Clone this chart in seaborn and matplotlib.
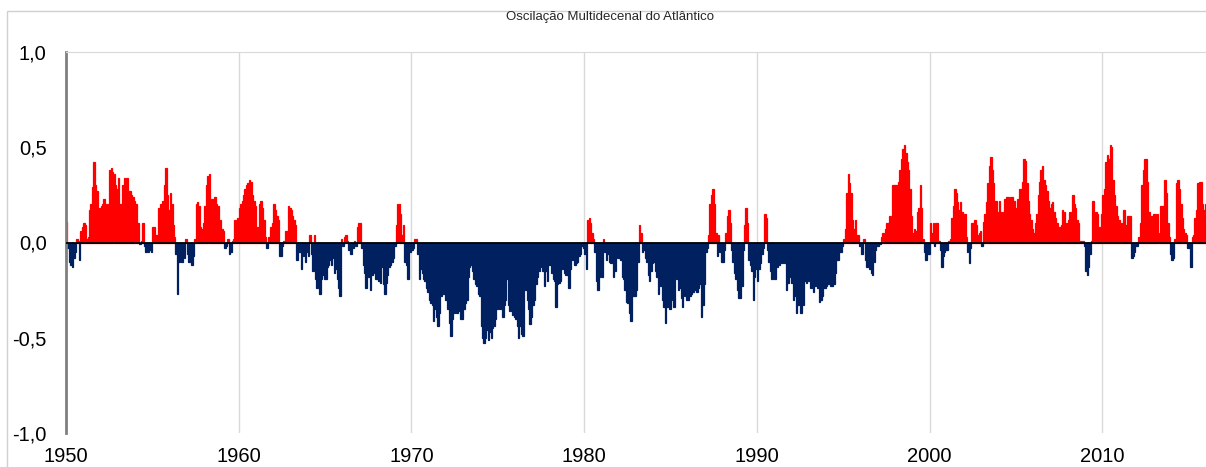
import numpy as np
import pandas as pd
import matplotlib
matplotlib.use("Agg")
import matplotlib.pyplot as plt
from matplotlib.patches import Rectangle
import seaborn as sns

# AMO monthly index, one row per year (Jan..Dec)
amo_1950s = [
    [0.11, -0.03, -0.10, -0.12, -0.13, -0.08, -0.05, 0.02, 0.01, -0.09, 0.06, 0.08],
    [0.10, 0.09, 0.02, 0.03, 0.17, 0.20, 0.29, 0.42, 0.30, 0.27, 0.17, 0.18],
    [0.19, 0.20, 0.23, 0.18, 0.20, 0.19, 0.38, 0.39, 0.37, 0.36, 0.30, 0.28],
    [0.34, 0.20, 0.14, 0.30, 0.34, 0.28, 0.34, 0.26, 0.27, 0.25, 0.24, 0.22],
    [0.20, 0.10, 0.10, -0.01, 0.01, 0.10, -0.02, -0.05, -0.04, -0.05, -0.04, -0.05],
    [0.08, 0.08, 0.04, 0.04, 0.18, 0.20, 0.20, 0.22, 0.30, 0.39, 0.25, 0.17],
    [0.26, 0.20, 0.09, 0.03, -0.06, -0.27, -0.10, -0.09, -0.10, -0.06, -0.08, 0.02],
    [-0.06, -0.10, -0.08, -0.12, -0.07, 0.02, 0.20, 0.21, 0.19, 0.08, 0.07, 0.10],
    [0.19, 0.30, 0.35, 0.36, 0.22, 0.23, 0.22, 0.24, 0.20, 0.19, 0.11, 0.12],
    [0.07, 0.06, -0.03, -0.02, 0.02, -0.06, -0.05, 0.01, 0.02, 0.12, 0.10, 0.13],
]
amo_1960s = [
    [0.18, 0.20, 0.22, 0.25, 0.28, 0.30, 0.31, 0.33, 0.32, 0.25, 0.22, 0.19],
    [0.07, 0.08, 0.20, 0.22, 0.18, 0.12, 0.03, -0.03, 0.03, 0.03, 0.08, 0.10],
    [0.20, 0.17, 0.14, 0.12, -0.07, -0.07, -0.02, 0.01, 0.06, 0.06, 0.19, 0.18],
    [0.17, 0.14, 0.12, 0.09, -0.09, -0.05, -0.05, -0.14, -0.07, -0.07, -0.10, -0.05],
    [-0.07, 0.04, -0.06, -0.15, 0.04, -0.19, -0.24, -0.21, -0.27, -0.19, -0.17, -0.19],
    [-0.19, -0.13, -0.12, -0.09, -0.12, -0.08, -0.16, -0.14, -0.19, -0.24, -0.28, 0.02],
    [-0.02, 0.03, 0.04, 0.01, -0.04, -0.06, -0.06, -0.03, 0.01, -0.02, 0.08, 0.10],
    [0.10, -0.03, -0.12, -0.16, -0.24, -0.16, -0.18, -0.25, -0.17, -0.14, -0.16, -0.19],
    [-0.19, -0.20, -0.21, -0.13, -0.22, -0.27, -0.21, -0.17, -0.13, -0.12, -0.10, -0.08],
    [-0.02, 0.09, 0.20, 0.20, 0.15, 0.04, 0.09, -0.10, -0.12, -0.19, -0.05, -0.05],
]
amo_1970s = [
    [-0.04, -0.03, 0.02, 0.02, -0.06, -0.19, -0.14, -0.16, -0.19, -0.20, -0.24, -0.26],
    [-0.30, -0.32, -0.33, -0.41, -0.35, -0.39, -0.44, -0.37, -0.28, -0.25, -0.27, -0.30],
    [-0.30, -0.35, -0.42, -0.49, -0.40, -0.37, -0.36, -0.37, -0.36, -0.30, -0.40, -0.40],
    [-0.35, -0.32, -0.30, -0.18, -0.13, -0.12, -0.15, -0.19, -0.22, -0.23, -0.27, -0.28],
    [-0.44, -0.50, -0.53, -0.50, -0.46, -0.51, -0.47, -0.50, -0.45, -0.44, -0.40, -0.35],
    [-0.29, -0.35, -0.31, -0.39, -0.33, -0.30, -0.19, -0.33, -0.36, -0.35, -0.38, -0.39],
    [-0.40, -0.44, -0.50, -0.44, -0.48, -0.49, -0.20, -0.25, -0.30, -0.35, -0.43, -0.39],
    [-0.33, -0.30, -0.22, -0.18, -0.15, -0.12, -0.13, -0.15, -0.23, -0.15, -0.20, -0.12],
    [-0.12, -0.16, -0.19, -0.20, -0.34, -0.22, -0.21, -0.20, -0.14, -0.12, -0.16, -0.17],
    [-0.17, -0.24, -0.14, -0.09, -0.05, -0.12, -0.11, -0.10, -0.07, -0.06, -0.02, -0.03],
]
amo_1980s = [
    [-0.06, -0.14, 0.12, 0.13, 0.10, 0.05, 0.02, -0.05, -0.20, -0.25, -0.18, -0.06],
    [-0.18, 0.02, -0.05, -0.09, -0.06, -0.10, -0.11, -0.04, -0.18, -0.15, -0.03, -0.08],
    [-0.08, -0.09, -0.18, -0.19, -0.25, -0.31, -0.32, -0.37, -0.41, -0.28, -0.28, -0.28],
    [-0.25, -0.10, 0.09, 0.05, -0.05, -0.04, -0.08, -0.10, -0.17, -0.20, -0.15, -0.11],
    [-0.10, -0.15, -0.18, -0.27, -0.22, -0.23, -0.30, -0.34, -0.42, -0.34, -0.30, -0.35],
    [-0.30, -0.28, -0.34, -0.13, -0.19, -0.25, -0.24, -0.29, -0.34, -0.28, -0.27, -0.30],
    [-0.30, -0.28, -0.27, -0.26, -0.23, -0.25, -0.26, -0.24, -0.22, -0.39, -0.33, -0.22],
    [-0.05, -0.03, 0.04, 0.20, 0.25, 0.28, 0.20, 0.05, -0.07, 0.04, -0.05, -0.10],
    [-0.10, -0.04, 0.05, 0.14, 0.17, 0.10, -0.04, -0.10, -0.16, -0.19, -0.25, -0.29],
    [-0.29, -0.23, -0.04, 0.09, 0.18, 0.10, -0.09, -0.12, -0.15, -0.30, -0.18, -0.14],
]
amo_1990s = [
    [-0.20, -0.14, -0.11, -0.06, -0.03, 0.15, 0.13, -0.04, -0.10, -0.15, -0.19, -0.11],
    [-0.19, -0.11, -0.13, -0.12, -0.09, -0.11, -0.06, -0.11, -0.25, -0.21, -0.18, -0.10],
    [-0.21, -0.30, -0.28, -0.37, -0.33, -0.17, -0.37, -0.30, -0.33, -0.20, -0.21, -0.20],
    [-0.18, -0.24, -0.19, -0.26, -0.23, -0.20, -0.24, -0.31, -0.30, -0.28, -0.24, -0.24],
    [-0.23, -0.22, -0.20, -0.23, -0.23, -0.22, -0.16, -0.09, -0.09, -0.05, -0.05, -0.02],
    [0.02, 0.07, 0.26, 0.36, 0.31, 0.26, 0.12, 0.07, 0.12, 0.04, 0.04, -0.02],
    [-0.06, -0.06, 0.02, -0.09, -0.13, -0.07, -0.14, -0.16, -0.17, -0.10, -0.04, -0.02],
    [-0.02, -0.01, 0.03, 0.05, 0.02, 0.07, 0.10, 0.10, 0.14, 0.13, 0.30, 0.30],
    [0.30, 0.30, 0.32, 0.38, 0.44, 0.49, 0.51, 0.47, 0.42, 0.38, 0.28, 0.14],
    [0.05, 0.07, 0.06, 0.16, 0.18, 0.30, 0.18, 0.02, -0.05, -0.09, -0.06, -0.06],
]
amo_2000s = [
    [0.10, 0.05, 0.10, -0.02, 0.10, 0.10, 0.01, -0.04, -0.13, -0.07, -0.05, -0.04],
    [-0.04, 0.01, 0.02, 0.13, 0.19, 0.28, 0.26, 0.21, 0.17, 0.21, 0.16, 0.14],
    [0.15, 0.03, -0.05, -0.11, -0.03, 0.10, 0.10, 0.12, 0.09, 0.04, 0.05, 0.06],
    [-0.02, 0.11, 0.15, 0.21, 0.31, 0.40, 0.45, 0.38, 0.31, 0.22, 0.22, 0.16],
    [0.22, 0.16, 0.02, 0.16, 0.23, 0.24, 0.24, 0.20, 0.24, 0.24, 0.22, 0.18],
    [0.12, 0.23, 0.28, 0.28, 0.32, 0.44, 0.43, 0.31, 0.22, 0.15, 0.12, 0.07],
    [0.05, 0.10, 0.15, 0.25, 0.32, 0.38, 0.40, 0.33, 0.30, 0.27, 0.22, 0.18],
    [0.20, 0.21, 0.16, 0.13, 0.10, 0.08, 0.08, 0.09, 0.17, 0.16, 0.05, 0.10],
    [0.12, 0.16, 0.13, 0.25, 0.20, 0.18, 0.12, 0.10, 0.01, 0.01, 0.01, -0.02],
    [-0.15, -0.17, -0.13, -0.06, 0.01, 0.22, 0.05, 0.16, 0.15, 0.07, 0.08, 0.15],
]
amo_2010s = [
    [0.25, 0.28, 0.42, 0.46, 0.44, 0.51, 0.50, 0.33, 0.25, 0.19, 0.14, 0.12],
    [0.05, 0.10, 0.17, 0.17, 0.09, 0.14, 0.14, 0.14, -0.08, -0.07, -0.05, -0.02],
    [-0.02, 0.03, 0.10, 0.30, 0.38, 0.44, 0.44, 0.32, 0.16, 0.13, 0.14, 0.15],
    [0.15, 0.14, 0.15, 0.05, 0.19, 0.19, 0.19, 0.33, 0.26, 0.10, 0.03, -0.06],
    [-0.09, -0.08, 0.02, 0.31, 0.33, 0.28, 0.20, 0.13, 0.07, 0.05, 0.04, -0.03],
    [-0.03, -0.13, 0.03, 0.04, 0.13, 0.17, 0.31, 0.32, 0.32, 0.20, 0.17, 0.20],
]

start_year = 1950
decade_ticks = [1950, 1960, 1970, 1980, 1990, 2000, 2010]
y_ticks = [-1.0, -0.5, 0.0, 0.5, 1.0]
title = "Oscilação Multidecenal do Atlântico"

values = np.concatenate([np.ravel(d) for d in
                         [amo_1950s, amo_1960s, amo_1970s, amo_1980s,
                          amo_1990s, amo_2000s, amo_2010s]])
months = np.arange(len(values))
df = pd.DataFrame({
    "t": start_year + (months + 0.5) / 12,
    "amo": values,
})
df["fase"] = np.where(df["amo"] >= 0, "pos", "neg")

sns.set_style("white")
plt.rcParams["font.family"] = ["Liberation Sans", "DejaVu Sans"]

fig = plt.figure(figsize=(12.06, 4.67), dpi=100)
ax = fig.add_axes([66 / 1206, 1 - 433 / 467, 1 - 66 / 1206, (433 - 52) / 467])

sns.barplot(data=df, x="t", y="amo", hue="fase",
            palette={"pos": "#FF0000", "neg": "#002060"},
            native_scale=True, dodge=False, width=1.0, saturation=1,
            legend=False, errorbar=None, ax=ax)

# close the hairline gaps between adjacent monthly bars
for bar in ax.patches:
    bar.set_edgecolor(bar.get_facecolor())
    bar.set_linewidth(0.9)

ax.set_xlim(start_year, 2016)
ax.set_ylim(-1, 1)
ax.set_xticks(decade_ticks)
ax.set_xticklabels([str(y) for y in decade_ticks])
ax.set_yticks(y_ticks)
ax.set_yticklabels([f"{v:.1f}".replace(".", ",") for v in y_ticks])
ax.set_xlabel("")
ax.set_ylabel("")
ax.tick_params(axis="both", length=0, labelsize=14.5, colors="black")
ax.tick_params(axis="y", pad=14)
ax.tick_params(axis="x", pad=10)

ax.grid(axis="x", color="#d9d9d9", lw=1)
ax.grid(axis="y", visible=False)
ax.set_axisbelow(True)
ax.axhline(0, color="black", lw=1.3, zorder=3)

ax.spines["left"].set_color("#808080")
ax.spines["left"].set_linewidth(2)
ax.spines["top"].set_color("#d9d9d9")
ax.spines["right"].set_visible(False)
ax.spines["bottom"].set_visible(False)

fig.text(610 / 1206, 1 - 17 / 467, title, ha="center", va="center", fontsize=9.5)
fig.patches.append(Rectangle((7 / 1206, -0.05), 1.1, 1 - 11 / 467 + 0.05,
                             transform=fig.transFigure, fill=False,
                             edgecolor="#d0d0d0", lw=1))

fig.savefig("out.png", dpi=100)
